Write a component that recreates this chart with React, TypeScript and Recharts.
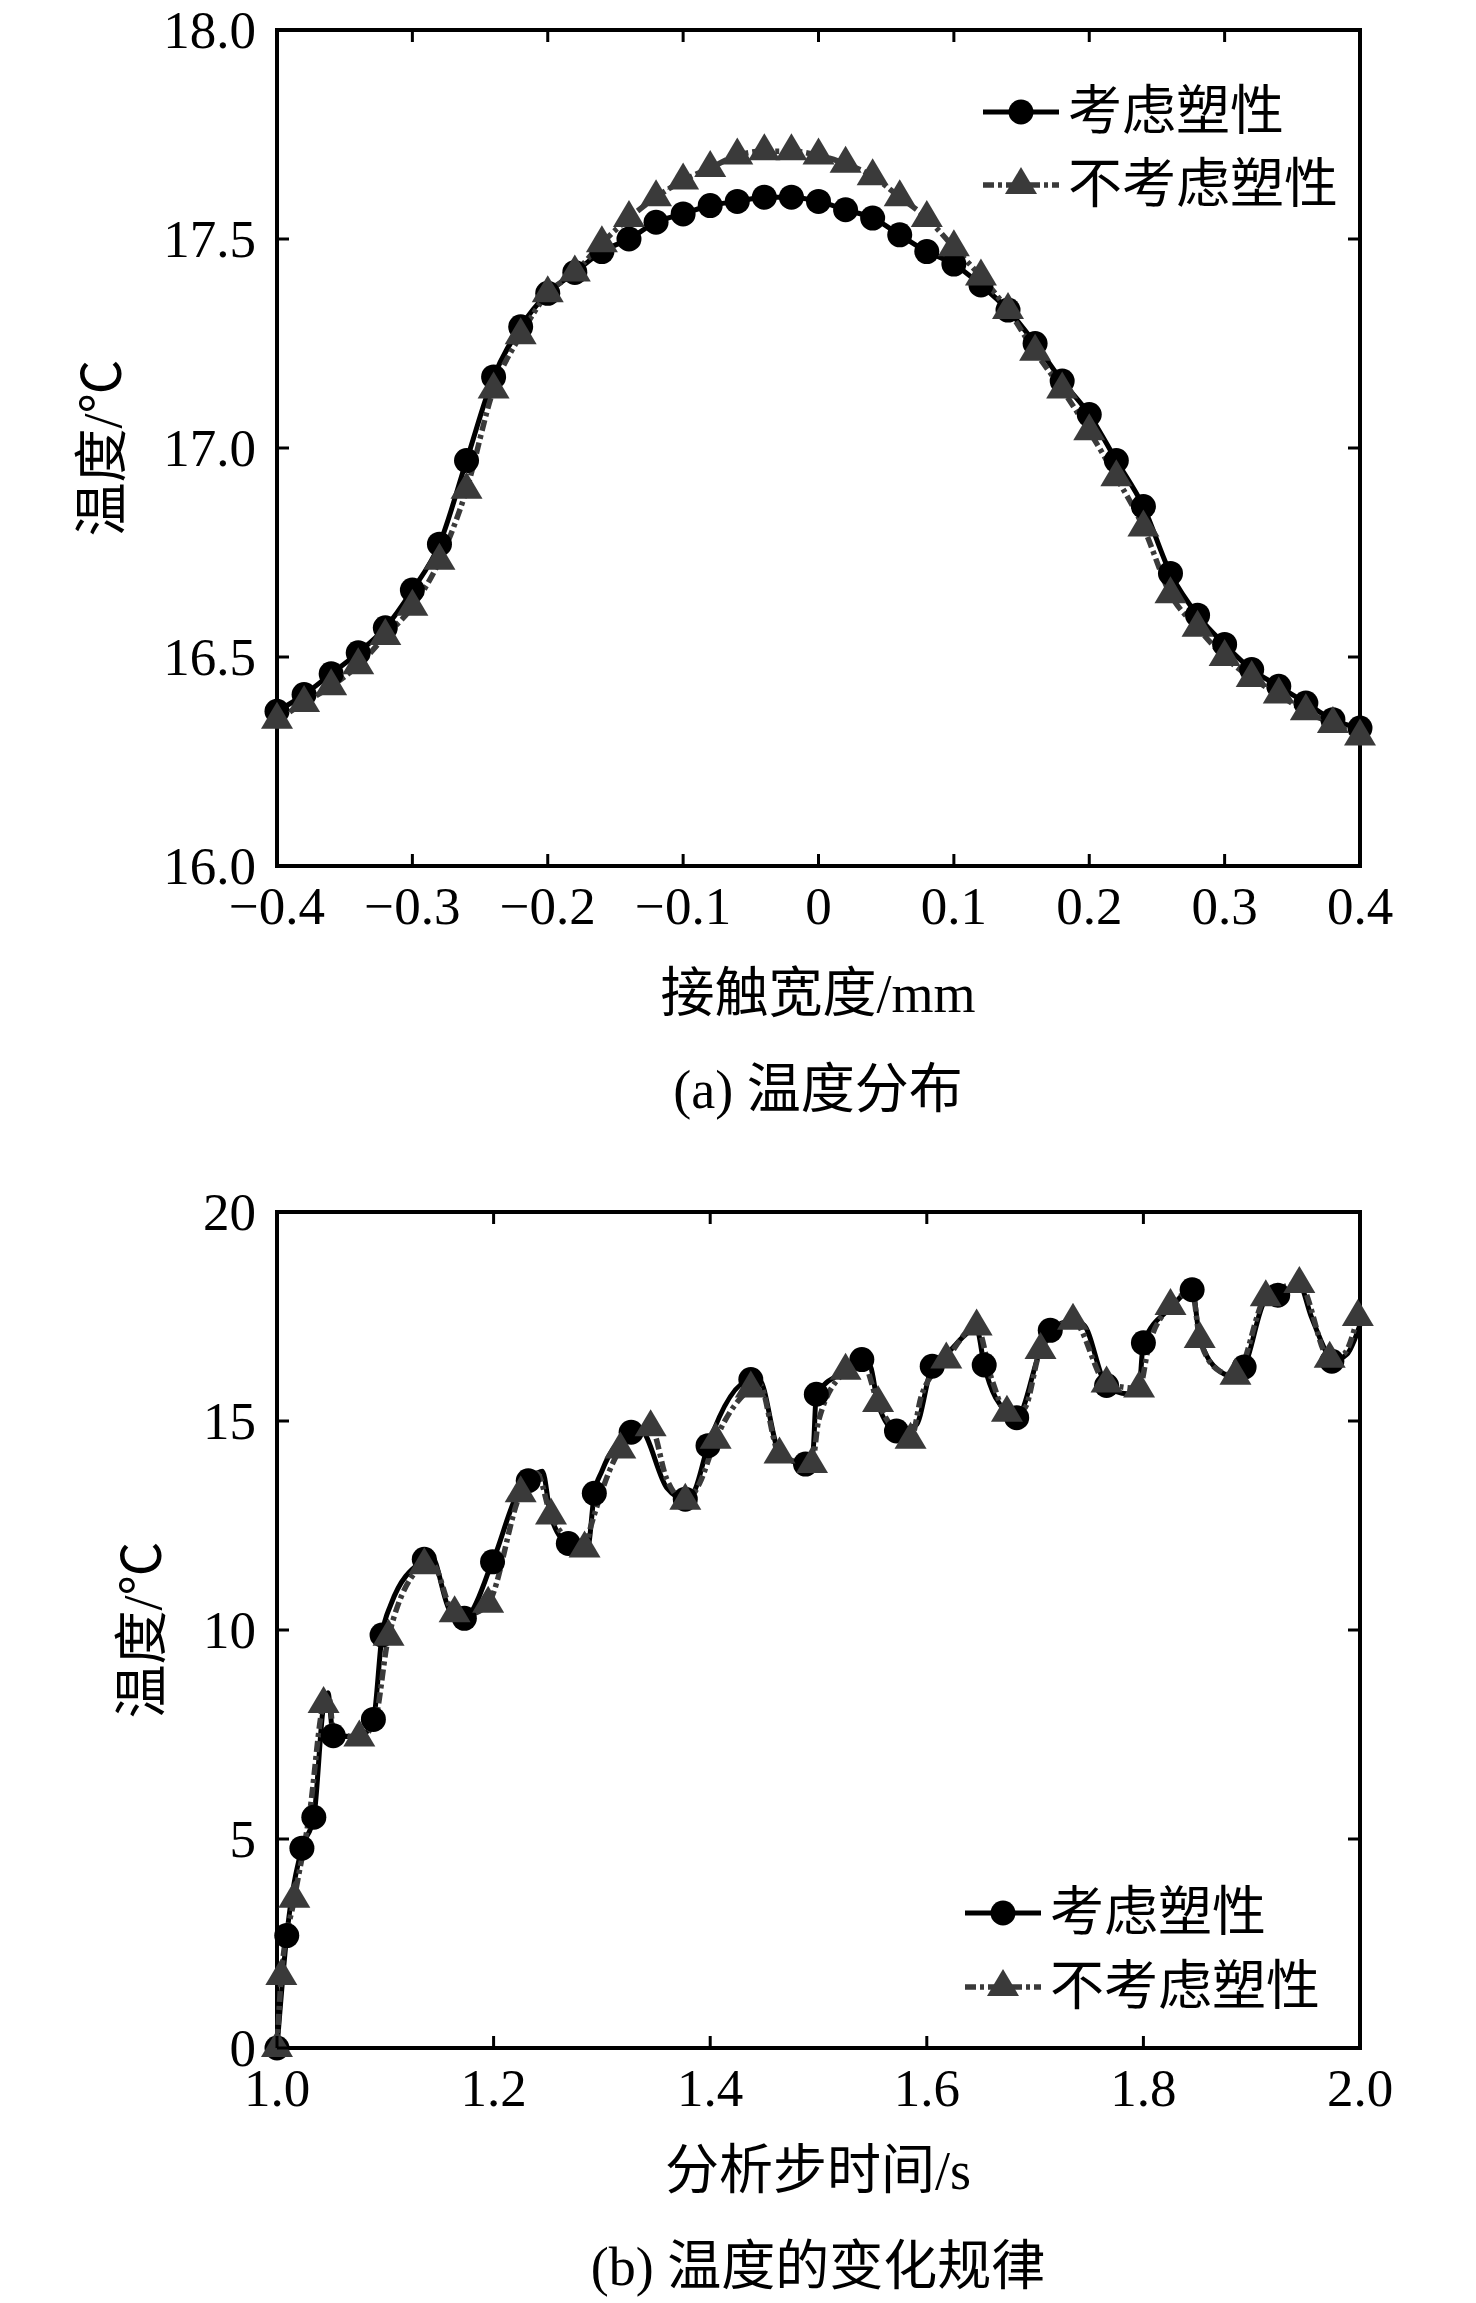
import React from 'react';
import { ComposedChart, Line, XAxis, YAxis, ReferenceArea } from 'recharts';

const SERIF = '"Liberation Serif", "Times New Roman", "Noto Sans CJK SC", serif';
const FS = 53;
const TITLE_FS = 54;
const PLOT_W = 1083;
const PLOT_H = 836;

// ---------- (a) 温度分布 ----------
const aX = [
  -0.4, -0.38, -0.36, -0.34, -0.32, -0.3, -0.28, -0.26, -0.24, -0.22, -0.2,
  -0.18, -0.16, -0.14, -0.12, -0.1, -0.08, -0.06, -0.04, -0.02, 0,
  0.02, 0.04, 0.06, 0.08, 0.1, 0.12, 0.14, 0.16, 0.18, 0.2,
  0.22, 0.24, 0.26, 0.28, 0.3, 0.32, 0.34, 0.36, 0.38, 0.4,
];
const aPlastic = [
  16.37, 16.41, 16.46, 16.51, 16.57, 16.66, 16.77, 16.97, 17.17, 17.29, 17.37,
  17.42, 17.47, 17.5, 17.54, 17.56, 17.58, 17.59, 17.6, 17.6, 17.59,
  17.57, 17.55, 17.51, 17.47, 17.44, 17.39, 17.33, 17.25, 17.16, 17.08,
  16.97, 16.86, 16.7, 16.6, 16.53, 16.47, 16.43, 16.39, 16.35, 16.33,
];
const aElastic = [
  16.35, 16.39, 16.43, 16.48, 16.55, 16.62, 16.73, 16.9, 17.14, 17.27, 17.37,
  17.42, 17.49, 17.55, 17.6, 17.64, 17.67, 17.7, 17.71, 17.71, 17.7,
  17.68, 17.65, 17.6, 17.55, 17.48, 17.41, 17.33, 17.23, 17.14, 17.04,
  16.93, 16.81, 16.65, 16.57, 16.5, 16.45, 16.41, 16.37, 16.34, 16.31,
];
const aXTicks = [-0.4, -0.3, -0.2, -0.1, 0, 0.1, 0.2, 0.3, 0.4];
const aXTickLabels = ['\u22120.4', '\u22120.3', '\u22120.2', '\u22120.1', '0', '0.1', '0.2', '0.3', '0.4'];
const aYTicks = [16, 16.5, 17, 17.5, 18];
const aYTickLabels = ['16.0', '16.5', '17.0', '17.5', '18.0'];

// ---------- (b) 温度的变化规律 ----------
// curve of 考虑塑性
const bPlasticT = [
  1.0, 1.009, 1.023, 1.034, 1.043, 1.047, 1.052, 1.076, 1.089, 1.097, 1.105,
  1.136, 1.142, 1.16, 1.173, 1.199, 1.225, 1.232, 1.245, 1.253, 1.269, 1.287,
  1.293, 1.3, 1.327, 1.335, 1.36, 1.377, 1.385, 1.398, 1.4375, 1.445, 1.464,
  1.488, 1.495, 1.498, 1.525, 1.54, 1.548, 1.555, 1.572, 1.59, 1.605, 1.618,
  1.646, 1.653, 1.674, 1.683, 1.705, 1.714, 1.735, 1.745, 1.766, 1.785, 1.796,
  1.8, 1.825, 1.845, 1.852, 1.87, 1.885, 1.893, 1.913, 1.924, 1.944, 1.955,
  1.972, 1.974, 1.988, 2.0,
];
const bPlasticV = [
  0, 2.69, 4.78, 5.52, 8.2, 8.5, 7.47, 7.45, 7.86, 9.88, 10.6,
  11.69, 11.8, 10.45, 10.28, 11.63, 13.4, 13.57, 13.8, 12.7, 12.07, 12.0,
  13.27, 13.8, 14.73, 14.8, 13.4, 13.13, 13.3, 14.41, 15.99, 16.0, 14.25,
  13.97, 14.3, 15.64, 16.2, 16.47, 16.3, 15.4, 14.76, 14.9, 16.31, 16.6,
  17.2, 16.34, 15.2, 15.08, 16.7, 17.17, 17.4, 17.3, 15.85, 15.65, 15.8,
  16.87, 17.7, 18.14, 17.0, 16.2, 16.05, 16.29, 17.9, 18.01, 18.25, 17.5,
  16.5, 16.43, 16.6, 17.3,
];
// markers of 考虑塑性
const bPlasticMarkT = [
  1.0, 1.009, 1.023, 1.034, 1.052, 1.089, 1.097, 1.136, 1.173, 1.199, 1.232,
  1.269, 1.293, 1.327, 1.377, 1.398, 1.4375, 1.488, 1.498, 1.54, 1.572, 1.605,
  1.653, 1.683, 1.714, 1.766, 1.8, 1.845, 1.893, 1.924, 1.974,
];
const bPlasticMarkV = [
  0, 2.69, 4.78, 5.52, 7.47, 7.86, 9.88, 11.69, 10.28, 11.63, 13.57,
  12.07, 13.27, 14.73, 13.13, 14.41, 15.99, 13.97, 15.64, 16.47, 14.76, 16.31,
  16.34, 15.08, 17.17, 15.85, 16.87, 18.14, 16.29, 18.01, 16.43,
];
// curve of 不考虑塑性
const bElasticT = [
  1.0, 1.004, 1.016, 1.03, 1.043, 1.048, 1.052, 1.076, 1.09, 1.103, 1.136,
  1.143, 1.164, 1.18, 1.195, 1.225, 1.24, 1.253, 1.284, 1.29, 1.317, 1.345,
  1.36, 1.377, 1.39, 1.405, 1.4375, 1.445, 1.464, 1.494, 1.5, 1.525, 1.54,
  1.555, 1.585, 1.595, 1.618, 1.646, 1.66, 1.674, 1.69, 1.705, 1.735, 1.766,
  1.796, 1.805, 1.825, 1.845, 1.852, 1.87, 1.885, 1.913, 1.944, 1.972, 1.985,
  1.998,
];
const bElasticV = [
  0, 1.72, 3.57, 5.6, 8.23, 8.4, 7.6, 7.43, 7.8, 9.84, 11.55,
  11.6, 10.4, 10.4, 10.63, 13.27, 13.75, 12.74, 11.95, 12.5, 14.32, 14.85,
  13.6, 13.09, 13.5, 14.55, 15.78, 15.9, 14.2, 13.97, 15.0, 16.2, 16.45,
  15.43, 14.55, 15.6, 16.47, 17.26, 16.0, 15.2, 15.3, 16.7, 17.4, 15.9,
  15.78, 16.8, 17.75, 18.1, 16.96, 16.2, 16.08, 17.96, 18.28, 16.49, 16.6,
  17.49,
];
// markers of 不考虑塑性
const bElasticMarkT = [
  1.0, 1.004, 1.016, 1.043, 1.076, 1.103, 1.136, 1.164, 1.195, 1.225, 1.253,
  1.284, 1.317, 1.345, 1.377, 1.405, 1.4375, 1.464, 1.494, 1.525, 1.555, 1.585,
  1.618, 1.646, 1.674, 1.705, 1.735, 1.766, 1.796, 1.825, 1.852, 1.885, 1.913,
  1.944, 1.972, 1.998,
];
const bElasticMarkV = [
  0, 1.72, 3.57, 8.23, 7.43, 9.84, 11.55, 10.4, 10.63, 13.27, 12.74,
  11.95, 14.32, 14.85, 13.09, 14.55, 15.78, 14.2, 13.97, 16.2, 15.43, 14.55,
  16.47, 17.26, 15.2, 16.7, 17.4, 15.9, 15.78, 17.75, 16.96, 16.08, 17.96,
  18.28, 16.49, 17.49,
];
const bXTicks = [1.0, 1.2, 1.4, 1.6, 1.8, 2.0];
const bXTickLabels = ['1.0', '1.2', '1.4', '1.6', '1.8', '2.0'];
const bYTicks = [0, 5, 10, 15, 20];
const bYTickLabels = ['0', '5', '10', '15', '20'];

const seriesNames = ['考虑塑性', '不考虑塑性'];

// ---------- styles ----------
const PLASTIC_COLOR = '#000000';
const ELASTIC_COLOR = '#3a3a3a';
const ELASTIC_DASH = '11 4 4 4';
const PLASTIC_W = 5;
const ELASTIC_W = 5.5;

const toPoints = (ts: number[], vs: number[]) => ts.map((t, i) => ({ t, v: vs[i] }));

const aData = aX.map((x, i) => ({ x, p: aPlastic[i], e: aElastic[i] }));
const bPlasticLine = toPoints(bPlasticT, bPlasticV);
const bPlasticMarks = toPoints(bPlasticMarkT, bPlasticMarkV);
const bElasticLine = toPoints(bElasticT, bElasticV);
const bElasticMarks = toPoints(bElasticMarkT, bElasticMarkV);

const CircleDot = (props: any) => {
  const { cx, cy, index } = props;
  if (cx == null || cy == null) return <g key={`cn-${index}`} />;
  return <circle key={`c-${index}`} cx={cx} cy={cy} r={12.5} fill={PLASTIC_COLOR} />;
};

const TriDot = (props: any) => {
  const { cx, cy, index } = props;
  if (cx == null || cy == null) return <g key={`tn-${index}`} />;
  const w = 32;
  const h = 27;
  return (
    <polygon
      key={`t-${index}`}
      points={`${cx},${cy - (h * 2) / 3} ${cx - w / 2},${cy + h / 3} ${cx + w / 2},${cy + h / 3}`}
      fill={ELASTIC_COLOR}
    />
  );
};

const makeXTick = (ticks: number[], labels: string[]) => (props: any) => {
  const { x, y, payload, index } = props;
  const i = ticks.indexOf(payload.value);
  const label = i >= 0 ? labels[i] : String(payload.value);
  return (
    <g key={`xt-${index}`}>
      <line x1={x} y1={y} x2={x} y2={y - 12} stroke="#000" strokeWidth={3} />
      <line x1={x} y1={y - PLOT_H} x2={x} y2={y - PLOT_H + 12} stroke="#000" strokeWidth={3} />
      <text x={x} y={y + 58} textAnchor="middle" fontSize={FS} fontFamily={SERIF} fill="#000">
        {label}
      </text>
    </g>
  );
};

const makeYTick = (ticks: number[], labels: string[]) => (props: any) => {
  const { x, y, payload, index } = props;
  const i = ticks.indexOf(payload.value);
  const label = i >= 0 ? labels[i] : String(payload.value);
  return (
    <g key={`yt-${index}`}>
      <line x1={x} y1={y} x2={x + 12} y2={y} stroke="#000" strokeWidth={3} />
      <line x1={x + PLOT_W} y1={y} x2={x + PLOT_W - 12} y2={y} stroke="#000" strokeWidth={3} />
      <text x={x - 21} y={y + 18} textAnchor="end" fontSize={FS} fontFamily={SERIF} fill="#000">
        {label}
      </text>
    </g>
  );
};

const textStyle: React.CSSProperties = {
  position: 'absolute',
  fontFamily: SERIF,
  fontSize: TITLE_FS,
  lineHeight: 1,
  whiteSpace: 'nowrap',
  color: '#000',
};

const CenterText = ({ x, y, text, rotate }: { x: number; y: number; text: string; rotate?: boolean }) => (
  <div
    style={{
      ...textStyle,
      left: x,
      top: y,
      transform: `translate(-50%, -50%)${rotate ? ' rotate(-90deg)' : ''}`,
    }}
  >
    {text}
  </div>
);

const LegendRow = ({ x, y, kind, name }: { x: number; y: number; kind: 'c' | 't'; name: string }) => (
  <div style={{ position: 'absolute', left: x, top: y - 30, height: 60, display: 'flex', alignItems: 'center' }}>
    <svg width={76} height={60} style={{ display: 'block' }}>
      {kind === 'c' ? (
        <>
          <line x1={0} y1={30} x2={76} y2={30} stroke={PLASTIC_COLOR} strokeWidth={PLASTIC_W} />
          <circle cx={38} cy={30} r={12.5} fill={PLASTIC_COLOR} />
        </>
      ) : (
        <>
          <line x1={0} y1={30} x2={76} y2={30} stroke={ELASTIC_COLOR} strokeWidth={ELASTIC_W} strokeDasharray={ELASTIC_DASH} />
          <polygon points={`38,${30 - 18} ${22},${30 + 9} ${54},${30 + 9}`} fill={ELASTIC_COLOR} />
        </>
      )}
    </svg>
    <span style={{ fontFamily: SERIF, fontSize: TITLE_FS, lineHeight: 1, marginLeft: 9, whiteSpace: 'nowrap' }}>{name}</span>
  </div>
);

const CHART_W = 1476;
const CHART_H = 960;

export default function App() {
  return (
    <div style={{ position: 'absolute', left: 0, top: 0, width: 1476, height: 2303, background: '#fff', overflow: 'hidden' }}>
      {/* Chart (a) */}
      <div style={{ position: 'absolute', left: 0, top: 0 }}>
        <ComposedChart
          width={CHART_W}
          height={CHART_H}
          data={aData}
          margin={{ top: 30, right: 116, left: 177, bottom: 34 }}
        >
          <XAxis
            dataKey="x"
            type="number"
            domain={[-0.4, 0.4]}
            ticks={aXTicks}
            interval={0}
            height={60}
            axisLine={false}
            tickLine={false}
            tickSize={0}
            tickMargin={0}
            tick={makeXTick(aXTicks, aXTickLabels)}
          />
          <YAxis
            type="number"
            domain={[16, 18]}
            ticks={aYTicks}
            interval={0}
            width={100}
            axisLine={false}
            tickLine={false}
            tickSize={0}
            tickMargin={0}
            tick={makeYTick(aYTicks, aYTickLabels)}
          />
          <ReferenceArea x1={-0.4} x2={0.4} y1={16} y2={18} fill="none" fillOpacity={0} stroke="#000" strokeWidth={4} ifOverflow="visible" />
          <Line
            dataKey="p"
            name={seriesNames[0]}
            type="monotone"
            stroke={PLASTIC_COLOR}
            strokeWidth={PLASTIC_W}
            dot={CircleDot}
            activeDot={false}
            isAnimationActive={false}
          />
          <Line
            dataKey="e"
            name={seriesNames[1]}
            type="monotone"
            stroke={ELASTIC_COLOR}
            strokeWidth={ELASTIC_W}
            strokeDasharray={ELASTIC_DASH}
            dot={TriDot}
            activeDot={false}
            isAnimationActive={false}
          />
        </ComposedChart>
      </div>
      <LegendRow x={983} y={112} kind="c" name={seriesNames[0]} />
      <LegendRow x={983} y={185} kind="t" name={seriesNames[1]} />
      <CenterText x={103} y={448} text="温度/℃" rotate />
      <CenterText x={818} y={994} text="接触宽度/mm" />
      <CenterText x={818} y={1090} text="(a) 温度分布" />

      {/* Chart (b) */}
      <div style={{ position: 'absolute', left: 0, top: 1180 }}>
        <ComposedChart width={CHART_W} height={CHART_H} margin={{ top: 32, right: 116, left: 177, bottom: 32 }}>
          <XAxis
            dataKey="t"
            type="number"
            domain={[1, 2]}
            ticks={bXTicks}
            interval={0}
            height={60}
            axisLine={false}
            tickLine={false}
            tickSize={0}
            tickMargin={0}
            tick={makeXTick(bXTicks, bXTickLabels)}
          />
          <YAxis
            type="number"
            domain={[0, 20]}
            ticks={bYTicks}
            interval={0}
            width={100}
            axisLine={false}
            tickLine={false}
            tickSize={0}
            tickMargin={0}
            tick={makeYTick(bYTicks, bYTickLabels)}
          />
          <ReferenceArea x1={1} x2={2} y1={0} y2={20} fill="none" fillOpacity={0} stroke="#000" strokeWidth={4} ifOverflow="visible" />
          <Line
            data={bPlasticLine}
            dataKey="v"
            name={seriesNames[0]}
            type="monotone"
            stroke={PLASTIC_COLOR}
            strokeWidth={PLASTIC_W}
            dot={false}
            activeDot={false}
            isAnimationActive={false}
          />
          <Line
            data={bPlasticMarks}
            dataKey="v"
            name={seriesNames[0] + '-marks'}
            stroke="none"
            dot={CircleDot}
            activeDot={false}
            legendType="none"
            isAnimationActive={false}
          />
          <Line
            data={bElasticLine}
            dataKey="v"
            name={seriesNames[1]}
            type="monotone"
            stroke={ELASTIC_COLOR}
            strokeWidth={ELASTIC_W}
            strokeDasharray={ELASTIC_DASH}
            dot={false}
            activeDot={false}
            isAnimationActive={false}
          />
          <Line
            data={bElasticMarks}
            dataKey="v"
            name={seriesNames[1] + '-marks'}
            stroke="none"
            dot={TriDot}
            activeDot={false}
            legendType="none"
            isAnimationActive={false}
          />
        </ComposedChart>
      </div>
      <LegendRow x={965} y={1913} kind="c" name={seriesNames[0]} />
      <LegendRow x={965} y={1987} kind="t" name={seriesNames[1]} />
      <CenterText x={143} y={1630} text="温度/℃" rotate />
      <CenterText x={818} y={2171} text="分析步时间/s" />
      <CenterText x={818} y={2267} text="(b) 温度的变化规律" />
    </div>
  );
}
